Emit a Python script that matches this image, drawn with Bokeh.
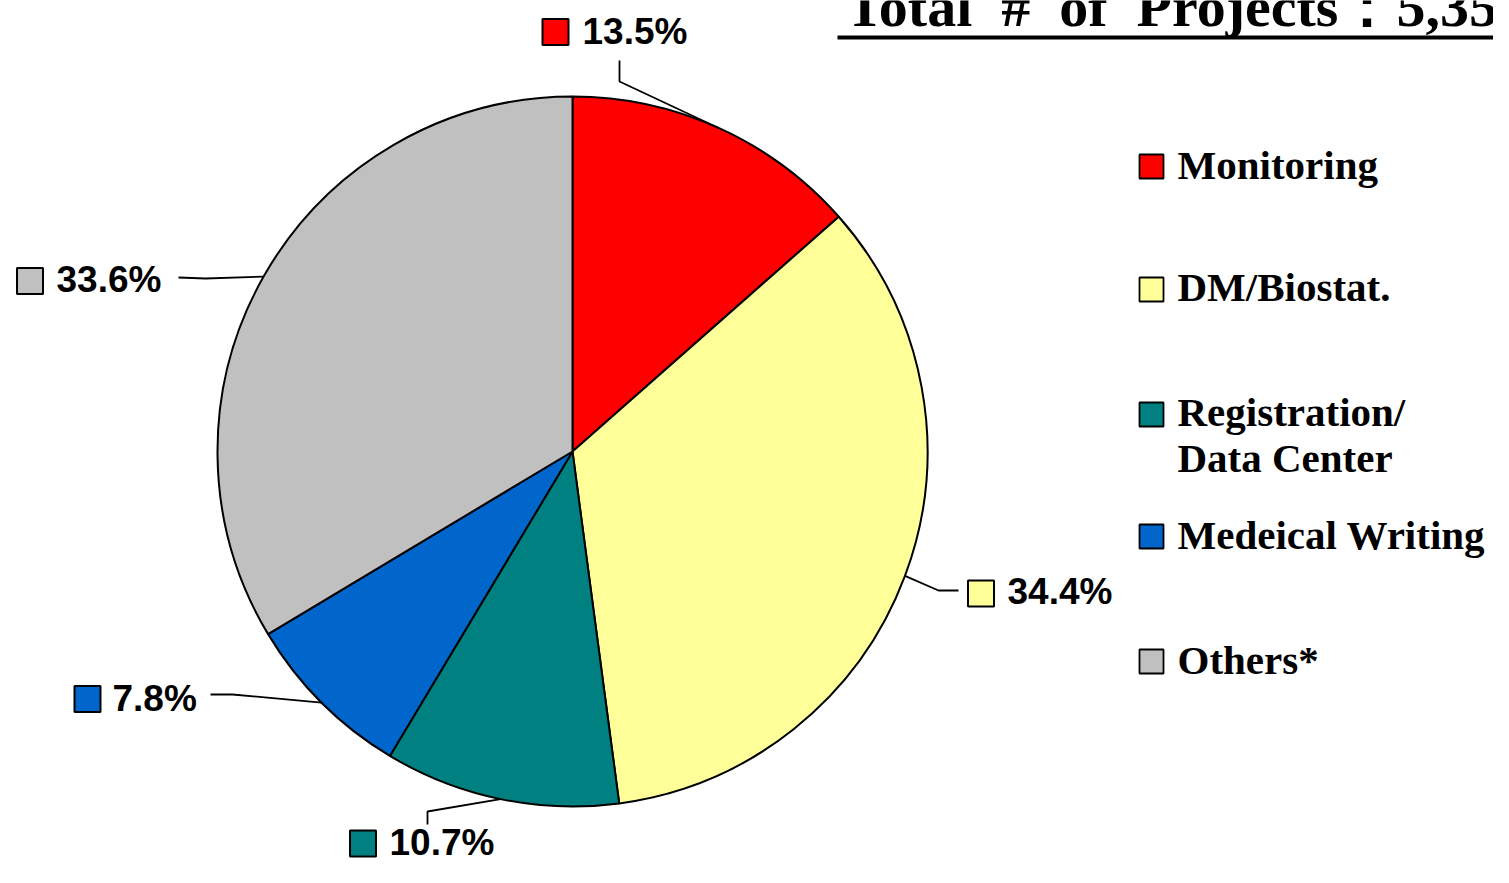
import numpy as np
from bokeh.plotting import figure
from bokeh.models import Range1d
from bokeh.core.properties import value
from bokeh.embed import file_html
from bokeh.resources import INLINE

# ---------------- data ----------------
categories = ["Monitoring", "DM/Biostat.", "Registration/\nData Center", "Medeical Writing", "Others*"]
percentages = [13.5, 34.4, 10.7, 7.8, 33.6]
colors = ["#FF0000", "#FFFF99", "#008080", "#0066CC", "#C0C0C0"]
title_text = "Total\u00a0\u00a0#\u00a0\u00a0of\u00a0\u00a0Projects：5,35"

# ---------------- layout (pixel coords, y downward) ----------------
W, H = 1493, 867
def Y(y):
    return H - y

# correction so that text baselines land where wanted
def B(y, size):
    return Y(y - 0.385 * size)

CX, CY, R = 572, 451, 355
PCT_SIZE = 37
LEG_SIZE = 41
TITLE_SIZE = 58
# label boxes (centers) and text anchors (left, baseline)
box_pos = [(555, 31.5), (980.5, 593), (362.5, 843), (87, 698.5), (29.5, 280.5)]
txt_pos = [(582, 45), (1007, 605), (389, 856), (112, 712), (56, 293)]
elbows = [[(619, 60), (619, 81)], [(958, 590), (938, 590)], [(427, 824), (427, 811)],
          [(210, 694), (232, 694)], [(178, 277), (205, 278)]]
leg_box_x = 1151
leg_box_y = [166, 289, 414, 536, 661]
leg_txt_x = 1177
leg_txt_base = [180, 302, 427, 550, 675]
leg_line_gap = 46

p = figure(width=W, height=H,
           x_range=Range1d(0, W), y_range=Range1d(0, H),
           output_backend="svg", toolbar_location=None,
           x_axis_location=None, y_axis_location=None,
           min_border=0, outline_line_color=None,
           background_fill_color="white", border_fill_color="white")
p.grid.visible = False

fr = np.array(percentages) / sum(percentages)
cum = np.concatenate([[0.0], np.cumsum(fr)])
start = np.pi / 2 - cum[:-1] * 2 * np.pi
end = np.pi / 2 - cum[1:] * 2 * np.pi

p.wedge(x=CX, y=Y(CY), radius=R, start_angle=start, end_angle=end,
        direction="clock", fill_color=colors, line_color="black", line_width=2)

# leader lines
mid = (start + end) / 2
xs, ys = [], []
for m, el in zip(mid, elbows):
    ex = CX + R * np.cos(m)
    ey = Y(CY) + R * np.sin(m)
    xs.append([el[0][0], el[1][0], ex])
    ys.append([Y(el[0][1]), Y(el[1][1]), ey])
p.multi_line(xs=xs, ys=ys, line_color="black", line_width=1.8)

# percentage labels
p.rect(x=[b[0] for b in box_pos], y=[Y(b[1]) for b in box_pos], width=26, height=26,
       fill_color=colors, line_color="black", line_width=2)
p.text(x=[t[0] for t in txt_pos], y=[B(t[1], PCT_SIZE) for t in txt_pos],
       text=["%.1f%%" % v for v in percentages],
       text_font=value("Liberation Sans"), text_font_style="bold",
       text_font_size="%dpx" % PCT_SIZE, text_baseline="alphabetic", text_align="left",
       text_color="black")

# legend
p.rect(x=[leg_box_x] * len(categories), y=[Y(v) for v in leg_box_y], width=24, height=24,
       fill_color=colors, line_color="black", line_width=1.8)
lx, ly, lt = [], [], []
for base, cat in zip(leg_txt_base, categories):
    for k, line in enumerate(cat.split("\n")):
        lx.append(leg_txt_x)
        ly.append(B(base + k * leg_line_gap, LEG_SIZE))
        lt.append(line)
p.text(x=lx, y=ly, text=lt, text_font=value("Liberation Serif"), text_font_style="bold",
       text_font_size="%dpx" % LEG_SIZE, text_baseline="alphabetic", text_align="left",
       text_color="black")

# title (cropped at the top/right like the reference)
p.text(x=[845], y=[B(28, TITLE_SIZE)], text=[title_text], text_font=value("Liberation Serif"),
       text_font_style="bold", text_font_size="%dpx" % TITLE_SIZE, text_baseline="alphabetic",
       text_align="left", text_color="black")
p.line(x=[837, W], y=[Y(37), Y(37)], line_color="black", line_width=4)

open("out.html", "w").write(file_html(p, INLINE))
